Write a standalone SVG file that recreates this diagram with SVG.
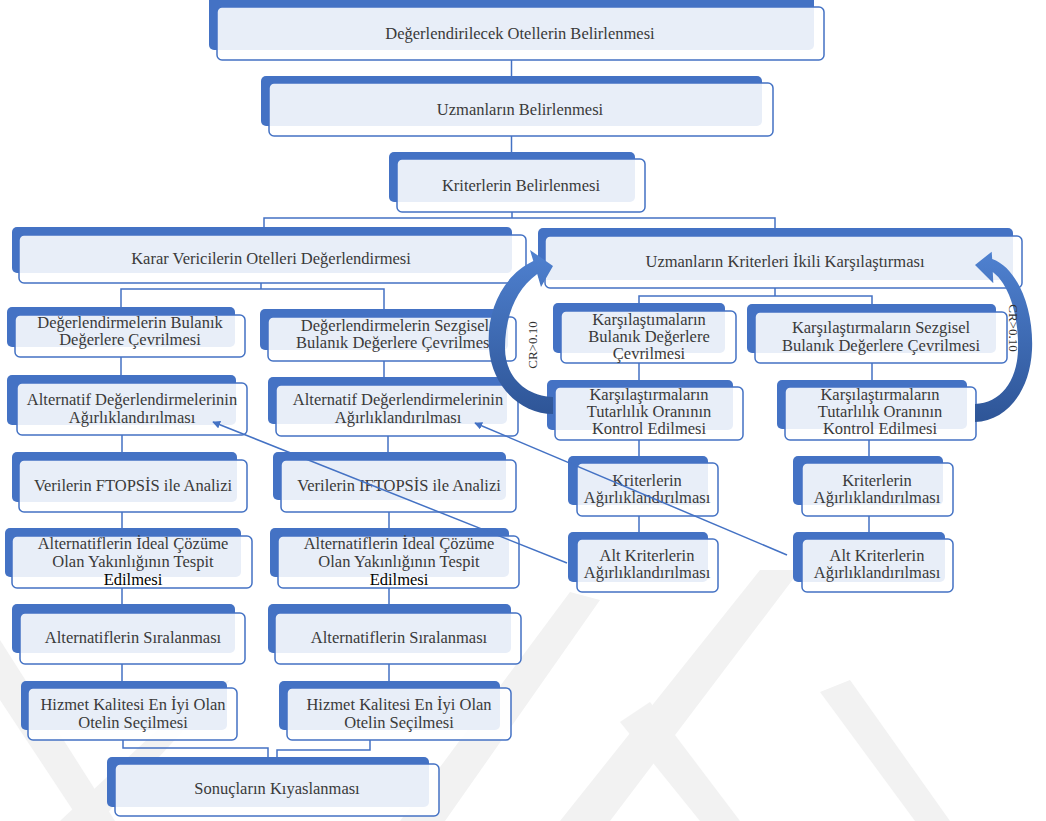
<svg xmlns="http://www.w3.org/2000/svg" width="1046" height="821" viewBox="0 0 1046 821">
<defs>
<style>
.b{fill:#4472c4}
.f{fill:#ffffff;fill-opacity:0.88;stroke:#4472c4;stroke-width:1.5}
.t{font-family:"Liberation Serif","Times New Roman",serif;font-size:16.5px;fill:#3a3a3a;text-anchor:middle}
.k{fill:#000000}
.c{fill:none;stroke:#4472c4;stroke-width:1.5}
.a{fill:none;stroke:#4472c4;stroke-width:1.5;marker-end:url(#ah)}
.w{fill:#f2f2f2}
.cr{font-family:"Liberation Serif","Times New Roman",serif;font-size:13px;fill:#333333;text-anchor:middle}
</style>
<marker id="ah" viewBox="0 0 10 10" refX="9" refY="5" markerWidth="8" markerHeight="8" markerUnits="userSpaceOnUse" orient="auto">
<path d="M0,0 L10,5 L0,10 Z" fill="#4472c4"/>
</marker>
<linearGradient id="g" x1="0" y1="0" x2="0" y2="1">
<stop offset="0" stop-color="#4f81d0"/>
<stop offset="1" stop-color="#2e5597"/>
</linearGradient>
</defs>
<rect width="1046" height="821" fill="#ffffff"/>
<g id="watermark">
<polygon class="w" points="560,821 610,821 800,570 760,570"/>
<polygon class="w" points="400,821 445,821 600,600 570,592"/>
<polygon class="w" points="620,722 650,702 740,821 700,821"/>
<polygon class="w" points="820,692 850,680 950,821 915,821"/>
<polygon class="w" points="0,640 0,700 80,821 115,821"/>
<polygon class="w" points="60,821 100,821 230,680 200,690"/>
</g>
<g id="connectors">
<path class="c" d="M511.5,60 V76"/>
<path class="c" d="M511.5,136 V152"/>
<path class="c" d="M512,212 V218 M264,227 V218 H775 V228"/>
<path class="c" d="M261,283 V289 M121,307 V289 H384 V309"/>
<path class="c" d="M121,357 V375 M384,361 V377"/>
<path class="c" d="M122,435 V452 M122,512 V528 M122,588 V604 M122,664 V681"/>
<path class="c" d="M388,436 V452 M389,512 V528 M389,588 V604 M389,664 V681"/>
<path class="c" d="M123,740 V748 H268 V757"/>
<path class="c" d="M370,740 V750 H277 V757"/>
<path class="c" d="M775,288 V296 M639,303 V296 H872 V304"/>
<path class="c" d="M639,363 V380 M872,363 V380"/>
<path class="c" d="M639,440 V456 M869,440 V456 M639,516 V532 M869,516 V532"/>
</g>
<g id="n1"><rect class="b" x="209" y="-5" width="605" height="55" rx="5"/><rect class="f" x="217" y="7" width="607" height="53" rx="5"/><text class="t" x="520" y="39">Değerlendirilecek Otellerin Belirlenmesi</text></g>
<g id="n2"><rect class="b" x="261" y="76" width="501" height="50" rx="5"/><rect class="f" x="269" y="83" width="504" height="53" rx="5"/><text class="t" x="520" y="115">Uzmanların Belirlenmesi</text></g>
<g id="n3"><rect class="b" x="389" y="152" width="246" height="50" rx="5"/><rect class="f" x="397" y="159" width="248" height="53" rx="5"/><text class="t" x="521" y="191">Kriterlerin Belirlenmesi</text></g>
<g id="n4"><rect class="b" x="12" y="227" width="500" height="46" rx="5"/><rect class="f" x="19" y="235" width="507" height="48" rx="5"/><text class="t" x="271" y="264">Karar Vericilerin Otelleri Değerlendirmesi</text></g>
<g id="n5"><rect class="b" x="538" y="228" width="475" height="52" rx="5"/><rect class="f" x="545" y="236" width="477" height="52" rx="5"/><text class="t" x="785" y="267">Uzmanların Kriterleri İkili Karşılaştırması</text></g>
<g id="n6"><rect class="b" x="7" y="307" width="228" height="40" rx="5"/><rect class="f" x="15" y="315" width="230" height="42" rx="5"/><text class="t" x="130" y="328">Değerlendirmelerin Bulanık</text><text class="t" x="130" y="345">Değerlere Çevrilmesi</text></g>
<g id="n7"><rect class="b" x="260" y="309" width="248" height="41" rx="5"/><rect class="f" x="268" y="317" width="248" height="44" rx="5"/><text class="t" x="395" y="331">Değerlendirmelerin Sezgisel</text><text class="t" x="395" y="348">Bulanık Değerlere Çevrilmesi</text></g>
<g id="n8"><rect class="b" x="7" y="375" width="229" height="50" rx="5"/><rect class="f" x="17" y="383" width="230" height="52" rx="5"/><text class="t" x="132" y="405">Alternatif Değerlendirmelerinin</text><text class="t" x="132" y="423">Ağırlıklandırılması</text></g>
<g id="n9"><rect class="b" x="268" y="377" width="239" height="47" rx="5"/><rect class="f" x="276" y="385" width="242" height="51" rx="5"/><text class="t" x="398" y="405">Alternatif Değerlendirmelerinin</text><text class="t" x="398" y="423">Ağırlıklandırılması</text></g>
<g id="n10"><rect class="b" x="12" y="452" width="225" height="50" rx="5"/><rect class="f" x="19" y="460" width="228" height="52" rx="5"/><text class="t" x="133" y="491">Verilerin FTOPSİS ile Analizi</text></g>
<g id="n11"><rect class="b" x="273" y="452" width="233" height="48" rx="5"/><rect class="f" x="281" y="460" width="235" height="52" rx="5"/><text class="t" x="399" y="491">Verilerin IFTOPSİS ile Analizi</text></g>
<g id="n12"><rect class="b" x="5" y="528" width="236" height="49" rx="5"/><rect class="f" x="12" y="536" width="240" height="52" rx="5"/><text class="t" x="133" y="549">Alternatiflerin İdeal Çözüme</text><text class="t" x="133" y="567">Olan Yakınlığının Tespit</text><text class="t k" x="133" y="585">Edilmesi</text></g>
<g id="n13"><rect class="b" x="270" y="528" width="239" height="49" rx="5"/><rect class="f" x="278" y="536" width="241" height="52" rx="5"/><text class="t" x="399" y="549">Alternatiflerin İdeal Çözüme</text><text class="t" x="399" y="567">Olan Yakınlığının Tespit</text><text class="t k" x="399" y="585">Edilmesi</text></g>
<g id="n14"><rect class="b" x="12" y="604" width="223" height="49" rx="5"/><rect class="f" x="20" y="613" width="225" height="51" rx="5"/><text class="t" x="133" y="643">Alternatiflerin Sıralanması</text></g>
<g id="n15"><rect class="b" x="268" y="604" width="243" height="49" rx="5"/><rect class="f" x="275" y="613" width="246" height="51" rx="5"/><text class="t" x="399" y="643">Alternatiflerin Sıralanması</text></g>
<g id="n16"><rect class="b" x="21" y="681" width="206" height="49" rx="5"/><rect class="f" x="28" y="688" width="209" height="52" rx="5"/><text class="t" x="133" y="710">Hizmet Kalitesi En İyi Olan</text><text class="t" x="133" y="728">Otelin Seçilmesi</text></g>
<g id="n17"><rect class="b" x="279" y="681" width="221" height="49" rx="5"/><rect class="f" x="287" y="688" width="224" height="52" rx="5"/><text class="t" x="399" y="710">Hizmet Kalitesi En İyi Olan</text><text class="t" x="399" y="728">Otelin Seçilmesi</text></g>
<g id="n18"><rect class="b" x="107" y="757" width="322" height="50" rx="5"/><rect class="f" x="115" y="764" width="324" height="52" rx="5"/><text class="t" x="277" y="794">Sonuçların Kıyaslanması</text></g>
<g id="n19"><rect class="b" x="553" y="303" width="172" height="50" rx="5"/><rect class="f" x="561" y="311" width="175" height="52" rx="5"/><text class="t" x="649" y="325">Karşılaştımaların</text><text class="t" x="649" y="342">Bulanık Değerlere</text><text class="t" x="649" y="359">Çevrilmesi</text></g>
<g id="n20"><rect class="b" x="747" y="304" width="249" height="49" rx="5"/><rect class="f" x="755" y="312" width="252" height="51" rx="5"/><text class="t" x="881" y="333">Karşılaştırmaların Sezgisel</text><text class="t" x="881" y="351">Bulanık Değerlere Çevrilmesi</text></g>
<g id="n21"><rect class="b" x="547" y="380" width="186" height="50" rx="5"/><rect class="f" x="555" y="387" width="188" height="53" rx="5"/><text class="t" x="649" y="400">Karşılaştırmaların</text><text class="t" x="649" y="417">Tutarlılık Oranının</text><text class="t" x="649" y="434">Kontrol Edilmesi</text></g>
<g id="n22"><rect class="b" x="777" y="380" width="190" height="49" rx="5"/><rect class="f" x="785" y="387" width="191" height="53" rx="5"/><text class="t" x="880" y="400">Karşılaştırmaların</text><text class="t" x="880" y="417">Tutarlılık Oranının</text><text class="t" x="880" y="434">Kontrol Edilmesi</text></g>
<g id="n23"><rect class="b" x="568" y="456" width="140" height="49" rx="5"/><rect class="f" x="577" y="463" width="141" height="53" rx="5"/><text class="t" x="647" y="486">Kriterlerin</text><text class="t" x="647" y="503">Ağırlıklandırılması</text></g>
<g id="n24"><rect class="b" x="793" y="456" width="150" height="49" rx="5"/><rect class="f" x="802" y="463" width="151" height="53" rx="5"/><text class="t" x="877" y="486">Kriterlerin</text><text class="t" x="877" y="503">Ağırlıklandırılması</text></g>
<g id="n25"><rect class="b" x="568" y="532" width="140" height="50" rx="5"/><rect class="f" x="577" y="539" width="141" height="53" rx="5"/><text class="t" x="647" y="561">Alt Kriterlerin</text><text class="t" x="647" y="578">Ağırlıklandırılması</text></g>
<g id="n26"><rect class="b" x="793" y="532" width="152" height="50" rx="5"/><rect class="f" x="802" y="539" width="151" height="53" rx="5"/><text class="t" x="877" y="561">Alt Kriterlerin</text><text class="t" x="877" y="578">Ağırlıklandırılması</text></g>
<g id="links">
<line class="a" x1="567" y1="563" x2="213" y2="422"/>
<line class="a" x1="787" y1="555" x2="475" y2="423"/>
</g>
<g id="loops">
<path fill="url(#g)" d="M533.3,261.1 C502,276 486,312 489,348 C492,388 522,414 553,414 L553,397 C526,396 505,377 505,348 C505,318 515,290 537.2,274 L541,287 L553,266 L530,250 Z"/>
<path fill="url(#g)" d="M992.2,259 C1018,268 1034,310 1032,350 C1030,392 1006,421 975,422 L975,404 C1000,403 1017,382 1018,350 C1019,318 1010,285 992.8,272 L993.3,283.3 L975,265 L991.7,251.7 Z"/>
<text class="cr" transform="translate(537,345) rotate(-90)">CR&gt;0.10</text>
<text class="cr" transform="translate(1009,328) rotate(90)">CR&gt;0.10</text>
</g>
</svg>
